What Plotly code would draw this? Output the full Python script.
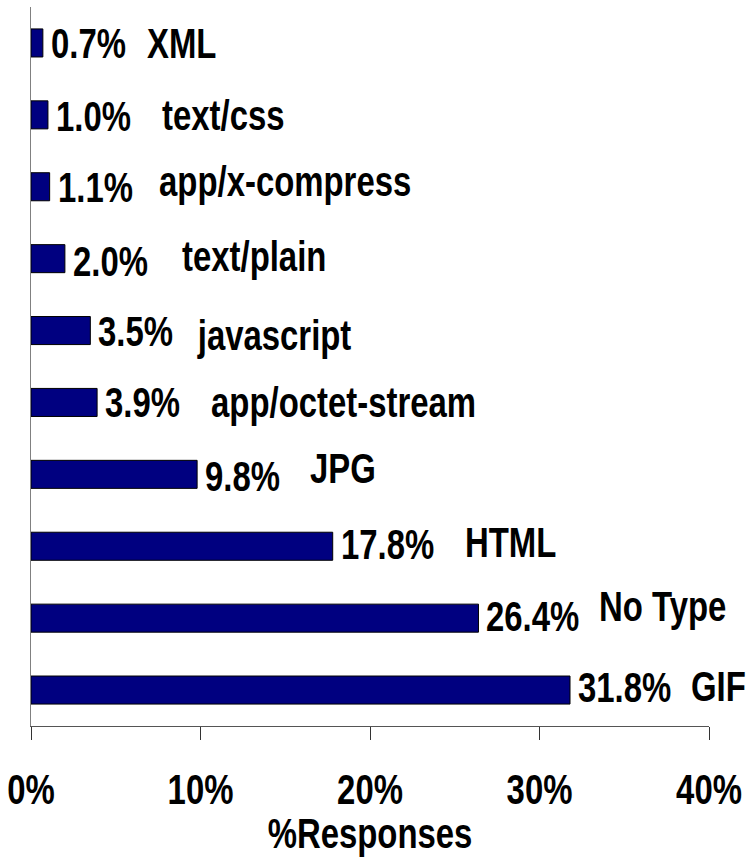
import plotly.graph_objects as go

# Response content types, listed top to bottom
content_types = ["XML", "text/css", "app/x-compress", "text/plain", "javascript",
                 "app/octet-stream", "JPG", "HTML", "No Type", "GIF"]
share_pct = [0.7, 1.0, 1.1, 2.0, 3.5, 3.9, 9.8, 17.8, 26.4, 31.8]

x_ticks = [0, 10, 20, 30, 40]
x_tick_labels = ["0%", "10%", "20%", "30%", "40%"]

# Label placement (pixels relative to each bar's end / centre)
name_dx = [102, 112, 107, 115, 105, 112, 111, 130, 119, 119]
name_dy = [0, 0, 6, 3, -4, 0, 6, 4, 12, 4]
value_dy = [0, -1, 0, -2, 0, 0, -2, 2, 2, 3]

FONT = "Liberation Sans Narrow, Arial Narrow, Liberation Sans, Arial, sans-serif"
SIZE = 43
NARROW = 0.765  # horizontal squeeze giving a narrow-face look

fig = go.Figure(
    go.Bar(
        x=share_pct,
        y=content_types,
        orientation="h",
        marker=dict(color="#000080", line=dict(color="#000000", width=1)),
        width=0.39,
        hoverinfo="skip",
    )
)

annotations = []
for name, v, ndx, ndy, vdy in zip(content_types, share_pct, name_dx, name_dy, value_dy):
    annotations.append(dict(
        x=v, y=name, xref="x", yref="y", text=f"{v:.1f}%",
        xanchor="left", yanchor="middle", xshift=6, yshift=vdy,
        showarrow=False, font=dict(family=FONT, size=SIZE, color="#000000", weight="bold"),
    ))
    annotations.append(dict(
        x=v, y=name, xref="x", yref="y", text=name,
        xanchor="left", yanchor="middle", xshift=ndx, yshift=ndy,
        showarrow=False, font=dict(family=FONT, size=SIZE, color="#000000", weight="bold"),
    ))

fig.update_layout(
    width=750, height=857,
    margin=dict(l=31, r=41, t=7, b=131, autoexpand=False),
    paper_bgcolor="white", plot_bgcolor="white",
    showlegend=False,
    annotations=annotations,
    xaxis=dict(
        range=[0, 40], tickvals=x_ticks, ticktext=x_tick_labels,
        ticks="outside", ticklen=13, tickwidth=1, tickcolor="#333333",
        ticklabelstandoff=12, ticklabeloverflow="allow",
        showline=True, linecolor="#555555", linewidth=1,
        showgrid=False, zeroline=False,
        tickfont=dict(family=FONT, size=SIZE, color="#000000", weight="bold"),
        title=dict(text="%Responses", standoff=6,
                   font=dict(family=FONT, size=SIZE, color="#000000", weight="bold")),
        fixedrange=True,
    ),
    yaxis=dict(
        autorange="reversed", showticklabels=False, ticks="",
        showline=True, linecolor="#808080", linewidth=1,
        showgrid=False, zeroline=False, fixedrange=True,
    ),
)

# Squeeze the bold text horizontally, keeping each label's anchor in place
squeeze_js = """
var gd = document.getElementById('{plot_id}');
var k = %s;
function squeezeText() {
  gd.querySelectorAll('text.annotation-text').forEach(function (t) {
    t.style.transformBox = 'fill-box';
    t.style.transformOrigin = 'left center';
    t.style.transform = 'scaleX(' + k + ')';
  });
  gd.querySelectorAll('text.xtitle').forEach(function (t) {
    t.style.transformBox = 'fill-box';
    t.style.transformOrigin = 'center center';
    t.style.transform = 'scaleX(' + k + ')';
  });
  // tick labels already carry a translate(); append the squeeze to it
  gd.querySelectorAll('g.xtick text').forEach(function (t) {
    var tr = t.getAttribute('transform') || '';
    if (tr.indexOf('scale(') < 0) {
      t.setAttribute('transform', tr + ' scale(' + k + ',1)');
    }
  });
}
squeezeText();
gd.on('plotly_afterplot', squeezeText);
""" % NARROW

fig.write_html("out.html", post_script=squeeze_js)
